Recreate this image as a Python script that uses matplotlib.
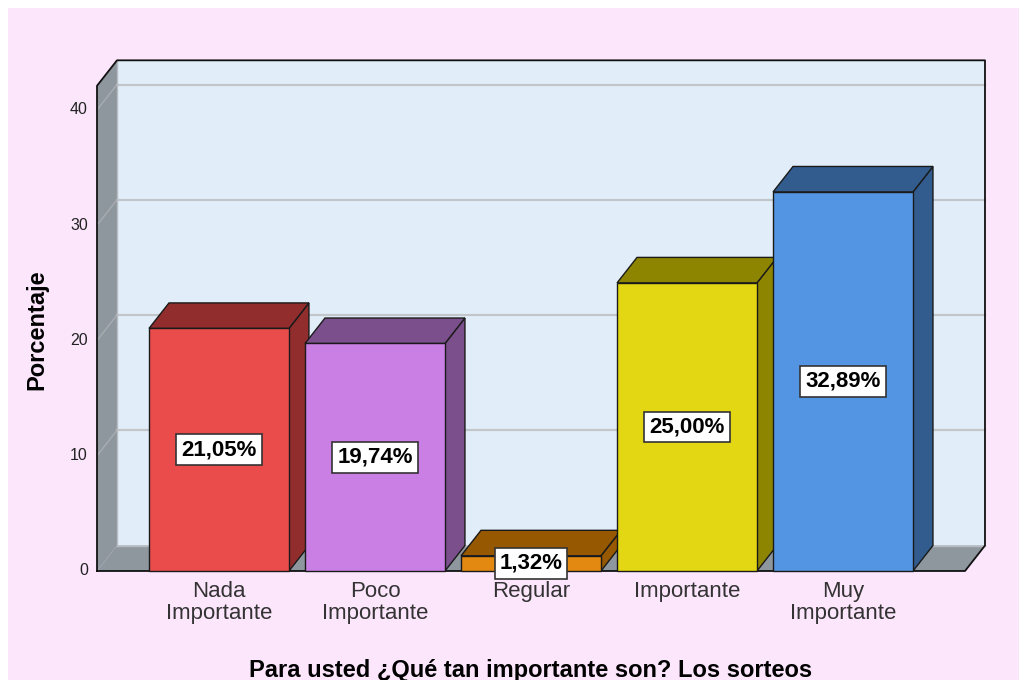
import matplotlib
matplotlib.use("Agg")
import matplotlib.pyplot as plt
from matplotlib.patches import Polygon, Rectangle

# data
categories = ["Nada\nImportante", "Poco\nImportante", "Regular", "Importante", "Muy\nImportante"]
percentages = [21.05, 19.74, 1.32, 25.00, 32.89]
y_ticks = [0, 10, 20, 30, 40]
y_title = "Porcentaje"
x_title = "Para usted ¿Qué tan importante son? Los sorteos"

# styling
front_colors = ["#EA4C4C", "#C97FE3", "#E38810", "#E3D612", "#5495E3"]
shade_colors = ["#922D2D", "#7B4F8C", "#965800", "#8D8500", "#335C8E"]

plt.rcParams['font.family'] = ['Liberation Sans', 'DejaVu Sans']

fig = plt.figure(figsize=(10.19, 6.8), dpi=100)
fig.patch.set_facecolor('#FCE6FC')
# thin white strips at the top and left edge
fig.patches.append(Rectangle((0, 1 - 8 / 680), 1, 8 / 680, transform=fig.transFigure,
                             facecolor='white', edgecolor='none', zorder=-10))
fig.patches.append(Rectangle((0, 0), 8 / 1019, 1, transform=fig.transFigure,
                             facecolor='white', edgecolor='none', zorder=-10))

ax = fig.add_axes([0, 0, 1, 1])
ax.set_zorder(1)
ax.set_xlim(-1.4038, 5.128)
ax.set_ylim(-9.458, 49.544)
ax.axis('off')

dx, dy = 0.128, 2.21        # depth offset of the 3d frame
x_left, x_right = -0.782, 4.782
wall_top = 42.1
bar_w = 0.897

# back wall, side wall, floor
ax.add_patch(Rectangle((x_left + dx, dy), x_right - x_left, wall_top,
                       facecolor='#E1EEF9', edgecolor='none', zorder=1))
ax.add_patch(Polygon([(x_left, 0), (x_left, wall_top), (x_left + dx, wall_top + dy), (x_left + dx, dy)],
                     closed=True, facecolor='#8E969E', edgecolor='none', zorder=1))
ax.add_patch(Polygon([(x_left, 0), (x_right, 0), (x_right + dx, dy), (x_left + dx, dy)],
                     closed=True, facecolor='#8E969E', edgecolor='none', zorder=1))

# gridlines
for t in y_ticks[1:]:
    ax.plot([x_left + dx, x_right + dx], [t + dy, t + dy], color='#C2C6CA', lw=1.6, zorder=2)
    ax.plot([x_left, x_left + dx], [t, t + dy], color='#A8ADB2', lw=1, zorder=2)
ax.plot([x_left + dx, x_right + dx], [dy, dy], color='#B8BCC0', lw=1, zorder=2)
ax.plot([x_left + dx, x_left + dx], [dy, wall_top + dy], color='#B8BCC0', lw=1, zorder=2)

# frame outline
ax.plot([x_left, x_left, x_left + dx, x_right + dx, x_right + dx, x_right, x_left],
        [0, wall_top, wall_top + dy, wall_top + dy, dy, 0, 0],
        color='#111111', lw=1.3, zorder=3)

# bars
for i, v in enumerate(percentages):
    x0, x1 = i - bar_w / 2, i + bar_w / 2
    ax.add_patch(Polygon([(x1, 0), (x1, v), (x1 + dx, v + dy), (x1 + dx, dy)], closed=True,
                         facecolor=shade_colors[i], edgecolor='#1A1A1A', lw=1, zorder=4 + i))
    ax.add_patch(Polygon([(x0, v), (x1, v), (x1 + dx, v + dy), (x0 + dx, v + dy)], closed=True,
                         facecolor=shade_colors[i], edgecolor='#1A1A1A', lw=1, zorder=4 + i))
    ax.add_patch(Rectangle((x0, 0), bar_w, v, facecolor=front_colors[i],
                           edgecolor='#1A1A1A', lw=1, zorder=4 + i))

# value labels
for i, v in enumerate(percentages):
    ax.text(i, v / 2, f"{v:.2f}%".replace('.', ','), ha='center', va='center',
            fontsize=16, fontweight='bold', color='black', zorder=20,
            bbox=dict(boxstyle='square,pad=0.22', facecolor='white', edgecolor='#333333', lw=1.2))

# tick labels
for t in y_ticks:
    ax.text(-0.84, t, str(t), ha='right', va='center', fontsize=11.5, color='#222222')

for i, c in enumerate(categories):
    ax.text(i, -0.9, c, ha='center', va='top', fontsize=16, color='#333333', linespacing=1.05)

ax.text(-1.167, 20.9, y_title, rotation=90, ha='center', va='center',
        fontsize=17, fontweight='bold', color='black')
ax.text(2.0, -8.6, x_title, ha='center', va='center', fontsize=17, fontweight='bold', color='black')

fig.savefig("out.png", dpi=100, facecolor=fig.get_facecolor())
